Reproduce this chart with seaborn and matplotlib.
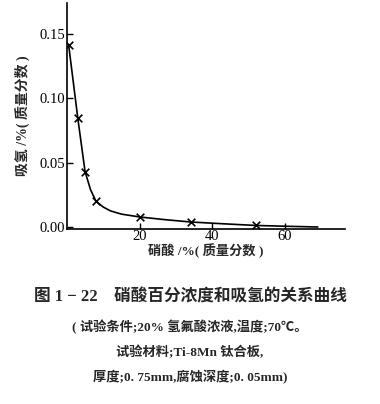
import numpy as np
import pandas as pd
import seaborn as sns
import matplotlib.pyplot as plt

sns.set_style("ticks")
plt.rcParams['font.family'] = ['Liberation Serif', 'Noto Sans CJK SC']

# %% Data

# measured points (x markers)
hno3_pts = [0.5, 3.0, 5.0, 8.0, 20.0, 34.0, 52.0]
h_pts = [0.141, 0.0845, 0.043, 0.020, 0.0078, 0.0039, 0.0012]

# smooth curve
hno3_curve = [0.5, 3.0, 5.0, 6.5, 8.0, 10.0, 12.0, 15.0, 20.0, 27.0, 34.0, 43.0, 52.0, 60.0, 69.0]
h_curve = [0.141, 0.0845, 0.043, 0.029, 0.020, 0.0155, 0.0125, 0.0100, 0.0078, 0.0057, 0.0039, 0.0025, 0.0012, 0.0006, 0.0]

x_ticks = [20, 40, 60]
y_ticks = [0.00, 0.05, 0.10, 0.15]

pts = pd.DataFrame({'HNO3': hno3_pts, 'H': h_pts})
curve = pd.DataFrame({'HNO3': hno3_curve, 'H': h_curve})

# %% Plot

fig = plt.figure(figsize=(3.8, 4.04), dpi=100)
ax = fig.add_axes([0.176, 0.433, 0.732, 0.56])

sns.lineplot(data=curve, x='HNO3', y='H', color='black', linewidth=1.2, ax=ax)
sns.scatterplot(data=pts, x='HNO3', y='H', marker='x', color='black', s=30,
                linewidth=1.2, ax=ax)

ax.set_xlim(0, 76.5)
ax.set_ylim(-0.0016, 0.174)
ax.set_xticks(x_ticks)
ax.set_yticks(y_ticks)
ax.set_yticklabels([f'{v:.2f}' for v in y_ticks])
ax.tick_params(direction='in', length=4, width=1, labelsize=10.5, colors='black')
ax.tick_params(axis='x', pad=1)
ax.tick_params(axis='y', pad=1)
for s in ['left', 'bottom']:
    ax.spines[s].set_linewidth(1.2)
    ax.spines[s].set_color('black')
sns.despine(ax=ax)

ax.set_xlabel('硝酸 /%( 质量分数 )', fontsize=9.5, fontweight='bold', labelpad=0)
ax.set_ylabel('吸氢 /%( 质量分数 )', fontsize=10, fontweight='bold', labelpad=7)

fig.text(0.5, 0.265, '图 1 − 22    硝酸百分浓度和吸氢的关系曲线', ha='center', va='center',
         fontsize=12, fontweight='bold')
fig.text(0.5, 0.19, '( 试验条件;20% 氢氟酸浓液,温度;70℃。', ha='center', va='center',
         fontsize=9.5, fontweight='bold')
fig.text(0.5, 0.128, '试验材料;Ti-8Mn 钛合板,', ha='center', va='center',
         fontsize=9.5, fontweight='bold')
fig.text(0.5, 0.067, '厚度;0. 75mm,腐蚀深度;0. 05mm)', ha='center', va='center',
         fontsize=9.5, fontweight='bold')

plt.savefig('out.png', dpi=100)
